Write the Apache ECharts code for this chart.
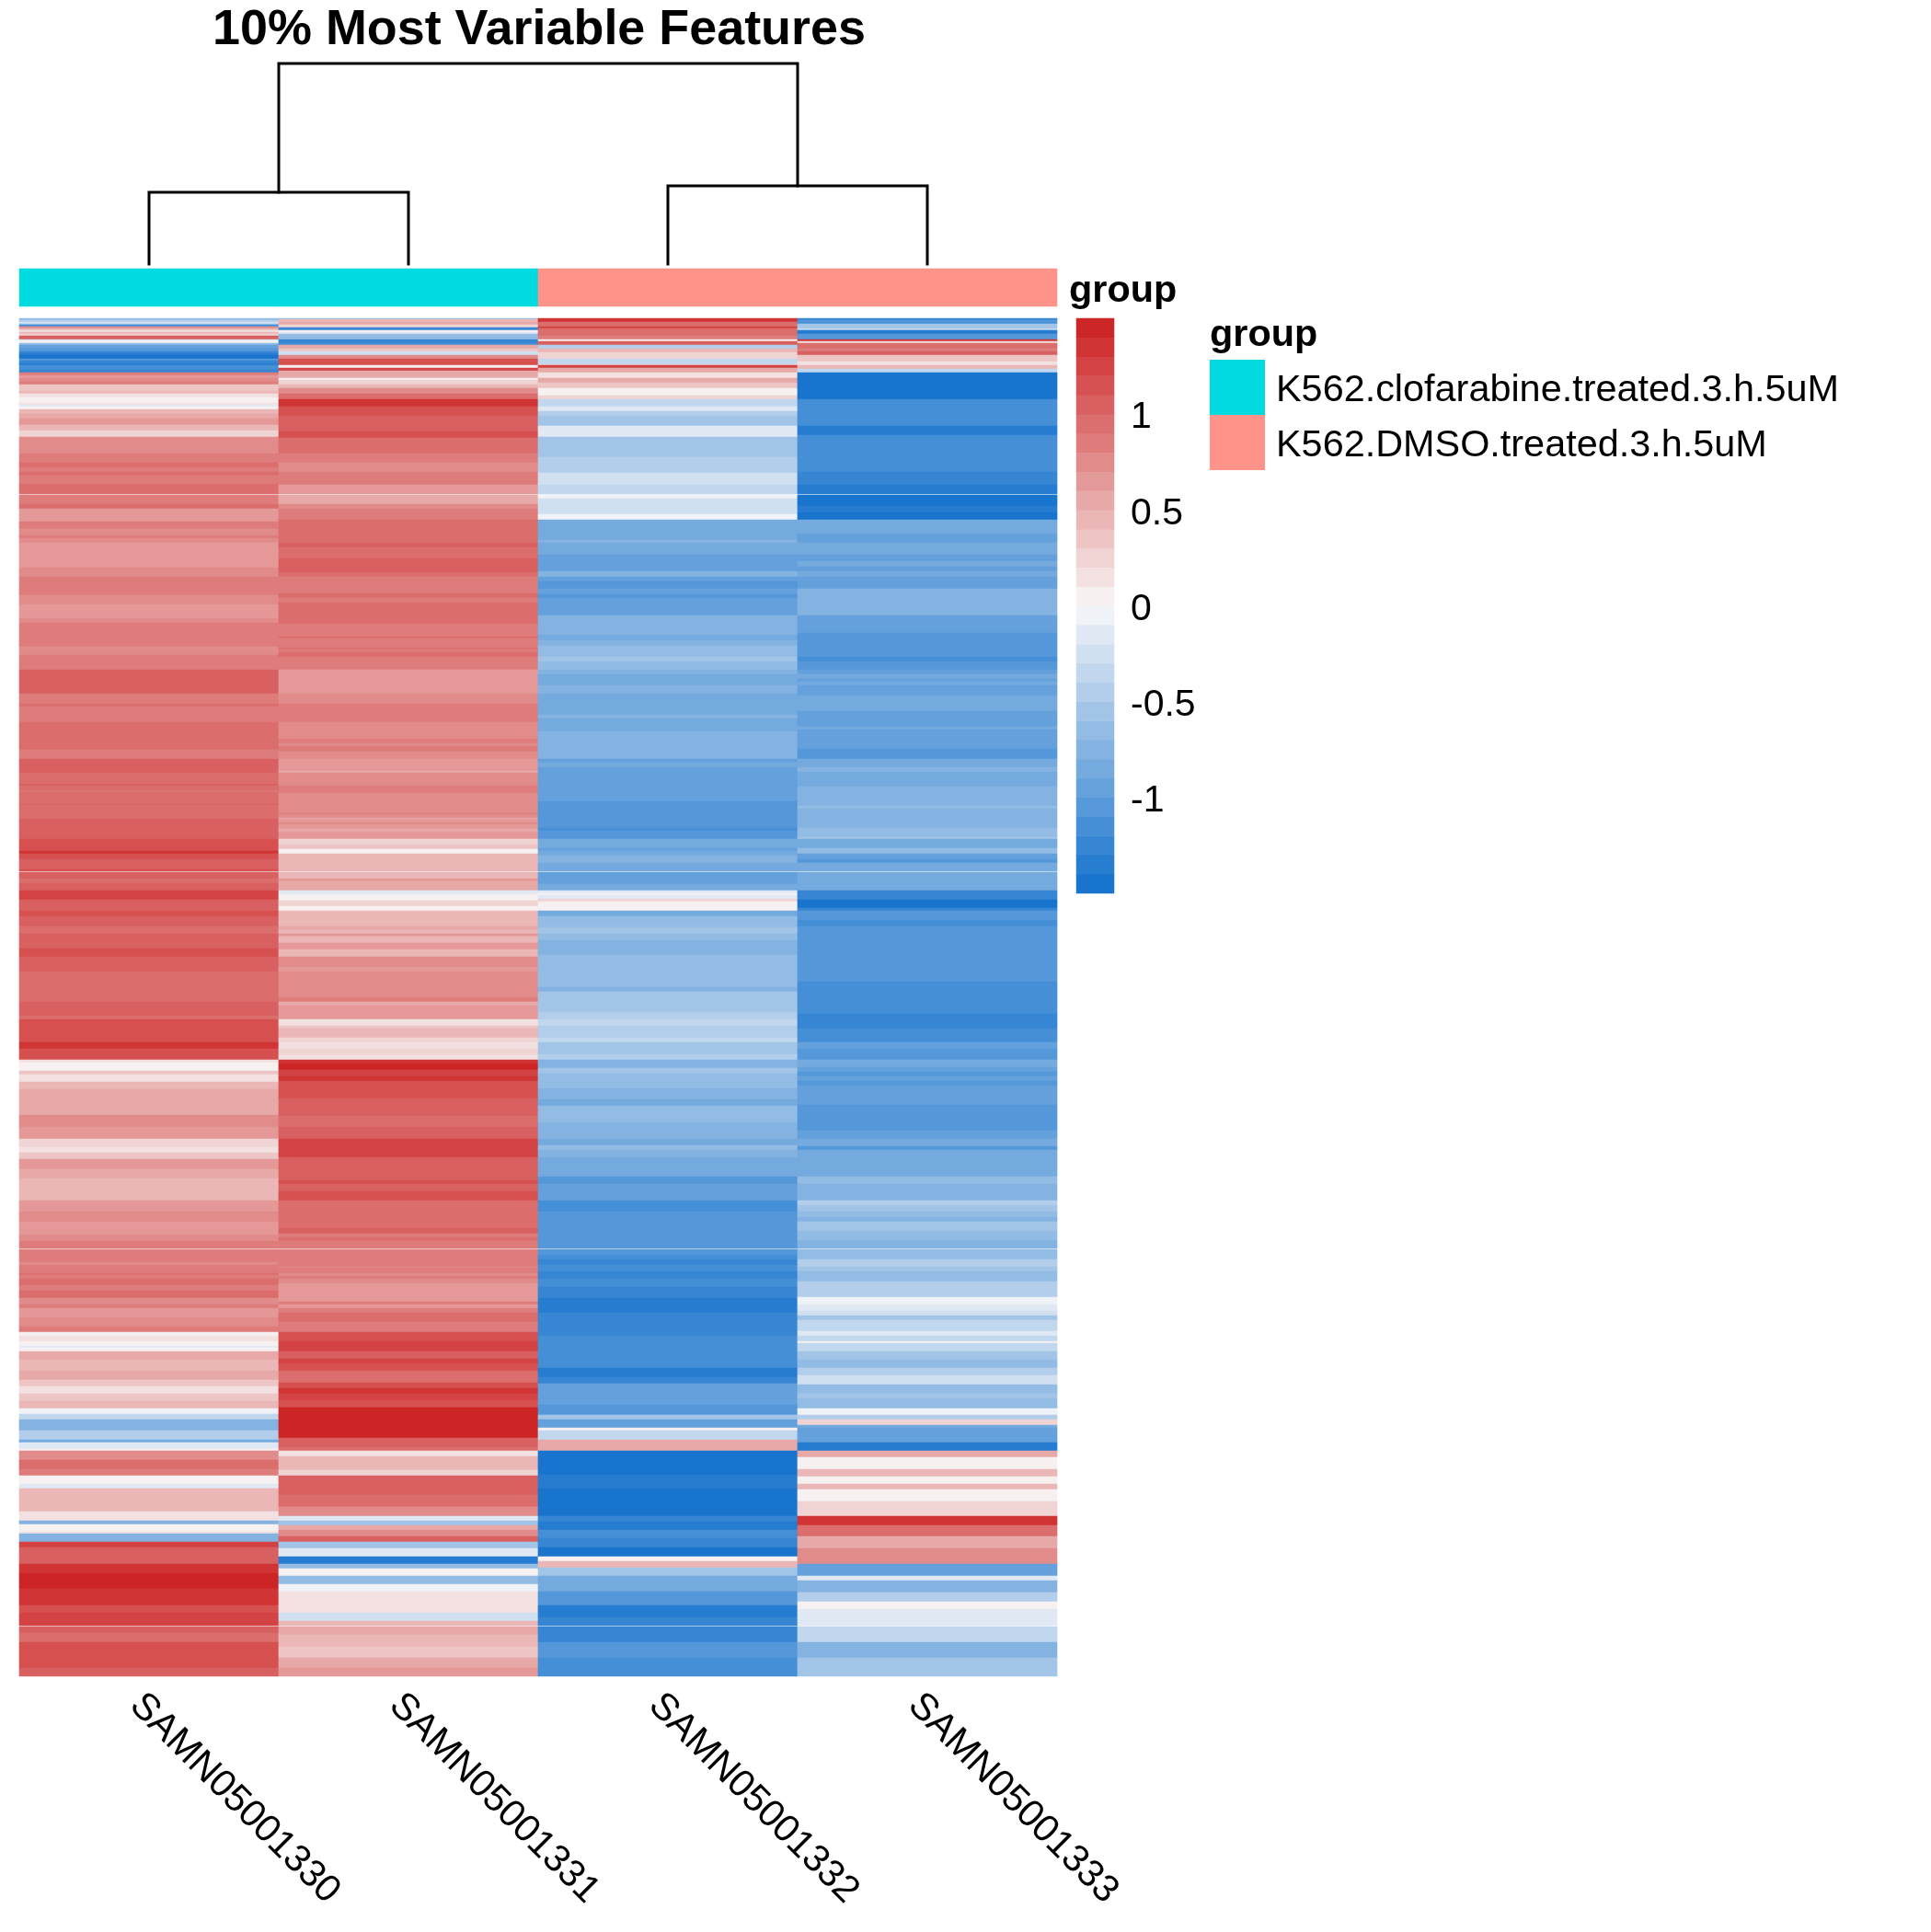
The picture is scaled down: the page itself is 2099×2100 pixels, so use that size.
<!DOCTYPE html>
<html><head><meta charset="utf-8">
<style>html,body{margin:0;padding:0;background:#fff}#c{width:2099px;height:2100px}</style>
<script src="https://cdn.jsdelivr.net/npm/echarts@6/dist/echarts.min.js"></script>
</head><body><div id="c"></div>
<script>
const sampleNames = ['SAMN05001330','SAMN05001331','SAMN05001332','SAMN05001333'];
const sampleGroups = [0,0,1,1];
const groupNames = ['K562.clofarabine.treated.3.h.5uM','K562.DMSO.treated.3.h.5uM'];
const groupColors = ['#00DAE0','#FF9289'];
const featureCount = 1476;
const blankFeatures = [191,601,1011,1421];
// runs: [last feature index (exclusive), scaled expression]
const col330 = [[2,-.65],[4,-.45],[6,-.25],[7,-.55],[9,-1.15],[11,.75],[13,.45],[15,.2],[17,.5],[19,.3],[23,1.1],[24,-.2],[27,.05],[29,-.6],[33,-.95],[36,-1.05],[38,-1.2],[40,-1.3],[44,-1.4],[46,-1.05],[49,-1.2],[51,-1.3],[56,-1.1],[59,-1.25],[62,.85],[65,.65],[69,.75],[72,.85],[79,.35],[82,.5],[86,.15],[92,.05],[94,.2],[96,-.1],[99,.1],[104,.45],[109,.55],[116,.65],[122,.4],[129,.3],[134,.75],[138,.8],[147,.75],[152,.85],[157,.85],[162,.95],[167,.85],[171,.95],[180,.85],[191,.95],
[202,.85],[207,.95],[221,.7],[229,.85],[236,.8],[239,.9],[244,.8],[262,.7],[271,.65],[281,.75],[294,.85],
[301,.85],[311,.8],[314,.7],[326,.7],[331,.75],[357,.85],[366,.8],[376,.85],[382,.85],[408,1.05],[419,.85],
[422,.95],[439,.85],[469,.95],[479,.9],[494,1.05],[506,.95],[508,1.05],[514,.95],[515,.85],[528,.95],[529,1.05],[544,.95],
[566,1.05],[579,1.2],[582,1.35],[588,1.15],[599,1.1],[601,1.2],[609,1.05],[614,.95],[622,1.1],[632,1.25],[644,1.05],[650,1.2],[661,1.1],[669,1.0],
[685,1.1],[694,1.15],[705,1.05],[710,1.1],[743,.95],[758,1.05],[762,.95],[787,1.15],[794,1.35],
[806,1.2],[809,.15],[818,.05],[822,.35],[830,.15],[838,.5],[849,.55],[866,.55],[879,.75],[892,.65],[901,.3],[907,.2],[914,.35],[919,.65],
[925,.65],[935,.6],[949,.5],[959,.5],[964,.7],[971,.65],[982,.75],[989,.7],[996,.65],[1003,.8],[1011,.85],[1019,.9],[1026,.85],[1029,.75],[1038,.85],[1040,.95],[1044,.85],
[1051,.95],[1057,.85],[1065,1.0],[1072,.75],[1076,.85],[1086,.65],[1096,.75],[1102,.85],[1106,.1],[1112,.2],[1117,.05],[1119,-.15],[1123,.05],[1132,.55],[1144,.4],[1154,.55],[1161,.35],[1169,.15],
[1177,.35],[1185,.45],[1191,-.05],[1197,-.35],[1209,-.75],[1219,-.4],[1222,-.85],[1229,-.1],[1231,.05],[1241,.8],[1251,.95],[1258,.85],[1267,.05],[1272,-.15],[1286,.5],[1297,.5],[1307,.2],[1311,-.7],[1319,.05],[1321,.15],[1330,-.7],[1336,1.25],[1354,1.05],[1364,1.35],[1381,1.45],[1399,1.35],[1407,1.15],[1421,1.25],[1429,1.05],[1439,.95],[1467,1.15],[1476,1.05]];
const col331 = [[1,-.6],[4,.4],[7,.55],[10,.25],[13,-1.25],[15,.05],[17,-.1],[23,-.65],[27,-1.25],[29,-1.15],[33,.55],[36,.35],[40,-.2],[44,.75],[51,1.15],[54,.05],[57,1.25],[65,.55],[67,.05],[72,.3],[76,.45],[82,.8],[88,.95],[96,1.35],[106,1.2],[111,1.1],[116,1.05],[123,1.1],[130,1.15],[147,.95],[157,.85],[167,.75],[181,.85],[191,.65],
[202,.6],[207,.75],[219,.85],[244,.95],[249,1.05],[261,.95],[276,1.05],[281,.95],[294,.85],
[299,.9],[304,.95],[309,.9],[332,.95],[346,.85],[348,.95],[358,.85],[360,.95],[363,.85],[368,.95],[382,.85],[408,.65],[419,.8],
[439,.85],[457,.75],[462,.85],[465,.75],[471,.85],[479,.8],[492,.65],[494,.55],[508,.75],[516,.85],[538,.75],[539,.85],[543,.75],[544,.55],
[548,.65],[550,.75],[555,.65],[558,.55],[566,.65],[572,.25],[577,.35],[582,.1],[588,.4],[596,.5],[601,.4],[609,.5],[612,.65],[622,.55],[626,-.15],[633,.05],[639,.3],[644,.1],[661,.4],[665,.6],[669,.5],
[672,.65],[679,.5],[686,.65],[690,.4],[694,.5],[705,.75],[710,.7],[738,.75],[743,.85],[747,.6],[762,.65],[769,.2],[772,.35],[782,.45],[787,.3],[794,.15],
[801,.3],[806,.15],[810,1.35],[817,1.45],[824,1.25],[829,1.35],[848,1.15],[867,1.05],[879,.95],[892,1.05],[912,1.25],[919,1.05],
[925,1.05],[931,1.1],[937,1.05],[941,1.15],[949,1.05],[959,1.15],[965,.95],[971,1.0],[989,.95],[995,1.05],[999,.85],[1003,.95],[1011,.85],[1031,.85],[1032,.75],[1038,.85],[1041,.75],[1044,.85],
[1049,.75],[1062,.7],[1069,.65],[1072,.85],[1076,.65],[1081,.85],[1091,.95],[1102,.85],[1112,1.2],[1123,1.3],[1131,1.05],[1136,1.25],[1144,1.15],[1157,1.0],[1163,1.2],[1169,1.35],
[1176,1.25],[1184,1.15],[1217,1.45],[1227,1.1],[1231,1.0],[1237,.2],[1252,.5],[1258,.25],[1279,1.1],[1292,.95],[1302,.8],[1307,-.1],[1312,-.5],[1317,.6],[1324,.8],[1330,1.05],[1337,-.55],[1346,-.1],[1354,-1.35],[1359,-.6],[1367,.05],[1376,-.6],[1384,-.05],[1407,.2],[1416,-.2],[1421,.4],[1431,.55],[1444,.45],[1456,.35],[1467,.55],[1476,.65]];
const col332 = [[4,1.35],[9,.95],[11,1.25],[19,1.0],[23,.85],[25,.1],[29,1.05],[33,-.4],[37,.45],[44,.25],[50,-.3],[51,.3],[54,1.25],[59,.6],[65,.2],[70,.55],[76,.35],[84,.05],[88,.25],[96,-.3],[101,-.1],[106,-.45],[117,-.5],[122,-.1],[129,-.15],[142,-.55],[151,-.5],[162,-.45],[168,-.4],[181,-.25],[191,-.3],
[196,-.05],[204,-.2],[213,-.25],[219,-.05],[241,-.85],[244,-.75],[257,-.85],[275,-.95],[281,-.75],[286,-.95],[294,-1.0],
[300,-.95],[304,-1.05],[323,-.95],[344,-.75],[350,-.85],[356,-.75],[368,-.65],[373,-.55],[382,-.65],[387,-.75],[399,-.85],[408,-.75],[419,-.85],
[431,-.85],[435,-.75],[449,-.85],[479,-.75],[483,-.95],[488,-.85],[494,-.95],[508,-.9],[525,-.95],[530,-1.05],[544,-1.05],
[554,-1.05],[557,-1.15],[566,-1.05],[576,-.85],[579,-.95],[584,-.85],[592,-.75],[601,-.85],[615,-.95],[622,-.85],[625,-.1],[627,.1],[631,-.15],[634,.25],[644,.05],[650,-.8],[662,-.65],[669,-.55],
[676,-.65],[692,-.7],[727,-.65],[732,-.7],[754,-.55],[762,-.45],[769,-.3],[776,-.4],[782,-.45],[787,-.35],[794,-.55],
[800,-.55],[806,-.4],[815,-.75],[821,-.55],[837,-.65],[849,-.75],[856,-.8],[874,-.65],[892,-.7],[899,-.8],[904,-.6],[912,-.75],[919,-.85],
[933,-.85],[941,-1.05],[952,-.95],[959,-.9],[971,-1.15],[979,-1.05],[986,-1.0],[1003,-1.05],[1011,-1.0],[1018,-1.05],[1023,-1.15],[1029,-1.25],[1036,-1.15],[1044,-1.2],
[1053,-1.15],[1065,-1.2],[1081,-1.35],[1087,-1.25],[1106,-1.25],[1127,-1.15],[1141,-1.1],[1147,-1.3],[1151,-1.35],[1158,-1.25],[1169,-.95],
[1181,-.95],[1192,-1.05],[1197,-.5],[1206,-.95],[1209,.05],[1219,-.35],[1231,.55],[1257,-1.45],[1272,-1.35],[1284,-1.4],[1302,-1.45],[1308,-1.2],[1317,-1.3],[1326,-1.15],[1336,-1.2],[1346,-1.4],[1351,.05],[1354,.45],[1358,.45],[1367,-.5],[1376,-.8],[1384,-.85],[1399,-1.05],[1412,-1.3],[1421,-1.2],[1439,-1.2],[1456,-1.0],[1476,-1.15]];
const col333 = [[2,-1.2],[4,-1.05],[6,-1.15],[11,-.5],[13,-.3],[17,-1.35],[23,-1.05],[25,1.4],[27,.2],[33,1.0],[36,.85],[40,1.1],[47,.35],[51,.2],[55,.4],[59,-.3],[82,-1.45],[88,-1.4],[94,-1.1],[109,-1.15],[117,-1.15],[127,-1.3],[142,-1.15],[167,-1.15],[181,-1.25],[191,-1.35],
[204,-1.4],[211,-1.3],[219,-1.4],[234,-.85],[244,-.95],[257,-.85],[264,-.95],[270,-.85],[275,-.95],[281,-.85],[294,-.9],
[323,-.75],[342,-.95],[349,-1.05],[368,-1.05],[373,-1.15],[382,-1.05],[387,-.95],[392,-.85],[395,-.95],[399,-.85],[410,-.95],[419,-.85],
[427,-.85],[444,-.95],[447,-.85],[468,-.95],[479,-1.05],[483,-.8],[488,-.85],[493,-.75],[509,-.85],[530,-.75],[533,-.6],[544,-.75],
[554,-.75],[564,-.65],[566,-.55],[576,-.85],[582,-.65],[588,-.9],[592,-1.0],[601,-.85],[609,-.8],[622,-.85],[632,-1.2],[641,-1.4],[644,-1.2],[654,-1.05],[661,-1.1],[669,-1.05],
[676,-1.05],[689,-1.0],[721,-1.05],[734,-1.1],[746,-1.15],[756,-1.15],[762,-1.2],[772,-1.25],[787,-1.15],[794,-.9],
[806,-1.05],[814,-.8],[819,-.9],[824,-1.05],[829,-.9],[834,-1.05],[855,-.95],[876,-1.05],[883,-1.0],[892,-.95],[900,-.85],[904,-1.05],[919,-.85],
[933,-.85],[941,-.65],[959,-.75],[964,-.45],[971,-.5],[977,-.6],[982,-.7],[992,-.55],[1002,-.65],[1011,-.7],[1023,-.65],[1031,-.45],[1036,-.55],[1044,-.6],
[1047,-.6],[1059,-.45],[1064,-.4],[1072,-.05],[1079,-.15],[1084,-.25],[1089,-.5],[1101,-.35],[1106,-.15],[1112,-.3],[1114,.05],[1123,-.3],[1132,-.55],[1141,-.6],[1149,-.45],[1159,-.2],[1169,-.6],
[1174,-.55],[1185,-.65],[1192,-.05],[1197,-.4],[1203,.25],[1206,-.8],[1222,-.95],[1231,-1.35],[1238,.55],[1251,.05],[1259,.5],[1267,.05],[1273,.4],[1286,.05],[1302,.3],[1312,1.35],[1324,1.0],[1337,.6],[1354,.8],[1367,-.95],[1372,-.1],[1385,-.7],[1395,-.45],[1403,.05],[1411,-.1],[1421,-.15],[1439,-.3],[1456,-.7],[1476,-.5]];
const columns = [col330,col331,col332,col333];
const scaleLevels = [-1.45,-1.35,-1.25,-1.15,-1.05,-.95,-.85,-.75,-.65,-.55,-.45,-.35,-.25,-.15,-.05,.05,.15,.25,.35,.45,.55,.65,.75,.85,.95,1.05,1.15,1.25,1.35,1.45];
const rampLow=[24,116,205], rampMid=[247,247,247], rampHigh=[205,38,38];
const tickValues=[-1,-.5,0,.5,1];
const leafPositions=[.5,1.5,2.5,3.5];
const mergeLeft=.358, mergeRight=.39, mergeRoot=1;

const palette = scaleLevels.map((_,i)=>{
  const t=i/(scaleLevels.length-1);
  const a=t<.5?rampLow:rampMid, b=t<.5?rampMid:rampHigh, u=t<.5?t*2:t*2-1;
  return 'rgb('+a.map((c,k)=>Math.round(c+(b[k]-c)*u)).join(',')+')';
});
const pieces = scaleLevels.map((v,i)=>({min:v-.05,max:v+.05+(i==29?.1:0),color:palette[i]}));
pieces[0].min=-1.7;

const cells=[];
columns.forEach((runs,cx)=>{
  let r=0;
  runs.forEach(([end,v])=>{
    for(;r<end&&r<featureCount;r++){ if(!blankFeatures.includes(r)) cells.push([cx,r,v]); }
  });
});
const rowCats=Array.from({length:featureCount},(_,i)=>i);
const F='"Liberation Sans",Arial,Helvetica,sans-serif';
const branches=[
 [[leafPositions[0],0],[leafPositions[0],mergeLeft],[leafPositions[1],mergeLeft],[leafPositions[1],0]],
 [[leafPositions[2],0],[leafPositions[2],mergeRight],[leafPositions[3],mergeRight],[leafPositions[3],0]],
 [[(leafPositions[0]+leafPositions[1])/2,mergeLeft],[(leafPositions[0]+leafPositions[1])/2,mergeRoot],[(leafPositions[2]+leafPositions[3])/2,mergeRoot],[(leafPositions[2]+leafPositions[3])/2,mergeRight]]
];
const chart=echarts.init(document.getElementById('c'),null,{renderer:'canvas',width:2099,height:2100});
chart.setOption({
 animation:false,backgroundColor:'#fff',
 title:{text:'10% Most Variable Features',left:581,top:1,textAlign:'center',textStyle:{fontFamily:F,fontWeight:'bold',fontSize:53.9,color:'#000'}},
 grid:[
  {left:21,top:346,width:1128,height:1476},
  {left:21,top:292,width:1128,height:41},
  {left:21,top:69,width:1128,height:218},
  {left:1170,top:346,width:41,height:625},
  {left:1170,top:350,width:41,height:625}
 ],
 xAxis:[
  {gridIndex:0,type:'category',data:sampleNames,axisLine:{show:false},axisTick:{show:false},splitLine:{show:false},
   axisLabel:{interval:0,rotate:-45,margin:11,fontFamily:F,fontSize:41.4,color:'#000',align:'left',verticalAlign:'top'}},
  {gridIndex:1,type:'category',data:sampleNames,show:false},
  {gridIndex:2,type:'value',min:0,max:4,show:false},
  {gridIndex:3,type:'category',data:['scale'],show:false},
  {gridIndex:4,type:'category',data:['scale'],show:false}
 ],
 yAxis:[
  {gridIndex:0,type:'category',data:rowCats,inverse:true,show:false},
  {gridIndex:1,type:'category',data:['group'],show:false},
  {gridIndex:2,type:'value',min:0,max:1,show:false},
  {gridIndex:3,type:'category',data:scaleLevels,show:false},
  {gridIndex:4,type:'value',min:-1.5,max:1.5,interval:.5,position:'right',axisLine:{show:false},axisTick:{show:false},splitLine:{show:false},
   axisLabel:{margin:18,fontFamily:F,fontSize:41,color:'#000',formatter:v=>tickValues.includes(v)?String(v):''}}
 ],
 visualMap:{type:'piecewise',show:false,seriesIndex:[0,1],dimension:2,pieces:pieces},
 series:[
  {type:'heatmap',xAxisIndex:0,yAxisIndex:0,data:cells,progressive:0,silent:true},
  {type:'heatmap',xAxisIndex:3,yAxisIndex:3,data:scaleLevels.map((v,i)=>[0,i,v]),progressive:0,silent:true},
  {type:'heatmap',xAxisIndex:1,yAxisIndex:1,progressive:0,silent:true,
   data:sampleGroups.map((g,i)=>({value:[i,0,g],itemStyle:{color:groupColors[g]}}))},
  ...branches.map(b=>({type:'line',xAxisIndex:2,yAxisIndex:2,data:b,symbol:'none',silent:true,clip:false,
    lineStyle:{color:'#000',width:3,cap:'square',join:'miter'}}))
 ],
 graphic:[
  {type:'text',left:1162,top:296,style:{text:'group',font:'bold 41.4px '+F,fill:'#000'}},
  {type:'text',left:1315,top:344,style:{text:'group',font:'bold 41.4px '+F,fill:'#000'}},
  ...groupNames.flatMap((n,i)=>[
   {type:'rect',shape:{x:1315,y:391+i*60,width:60,height:60},style:{fill:groupColors[i]}},
   {type:'text',left:1387,top:404+i*60,style:{text:n,font:'41.4px '+F,fill:'#000'}}
  ])
 ]
});
</script></body></html>
